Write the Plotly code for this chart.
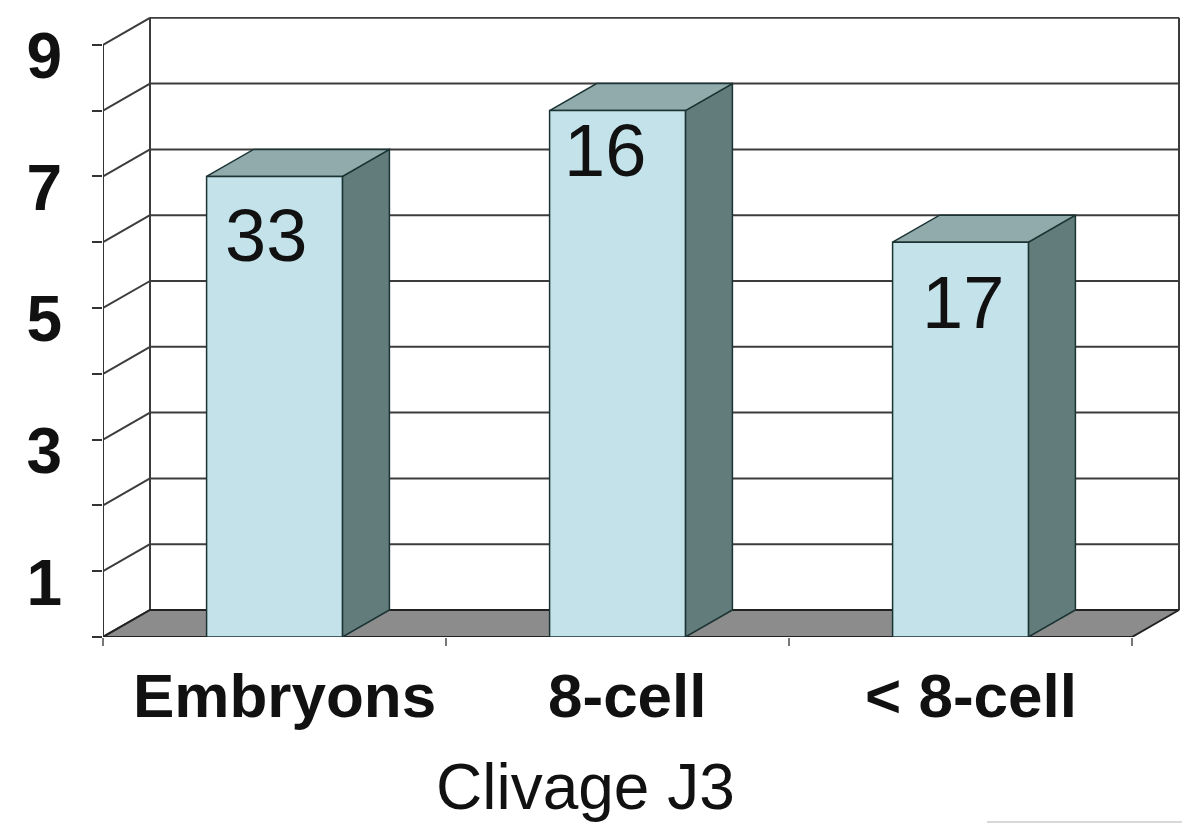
import plotly.graph_objects as go

# ---- data ----
categories = ["Embryons", "8-cell", "< 8-cell"]
values = [7, 8, 6]
bar_labels = ["33", "16", "17"]
y_ticks = list(range(0, 10))
y_ticktext = ["", "1", "", "3", "", "5", "", "7", "", "9"]
x_title = "Clivage J3"

# ---- geometry / style ----
W, H = 1190, 831
OFF = 8                       # page body margin of the browser
# plot-area edges in page pixels
P_LEFT, P_RIGHT, P_TOP, P_BOTTOM = 103, 1180, 17, 637
ML = P_LEFT - OFF
MT = P_TOP - OFF
MR = W - (P_RIGHT - OFF)
MB = H - (P_BOTTOM - OFF)
PX_SLOT = 343.0        # px per category slot
PX_UNIT = 65.8         # px per value unit
DDX = 47 / PX_SLOT     # depth offset (x, slot units)
DDY = 27 / PX_UNIT     # depth offset (y, value units)
HALF_W = 0.198         # half bar width (slot units)
YMAX = 9
N = len(categories)
# per-label pixel nudges (style only)
LABEL_NUDGE = [(-9, -16), (-13, 4), (2, -17)]

plot_w = W - ML - MR
plot_h = H - MT - MB
xr = [0, plot_w / PX_SLOT]
yr = [0, plot_h / PX_UNIT]

FRONT = "#c3e2e9"
TOP = "#91abad"
SIDE = "#627c7c"
EDGE = "#1c3333"
GRID = "#3c3c3c"
FLOOR = "#8c8c8c"
FONT = "Liberation Sans"

fig = go.Figure()

def line_trace(xs, ys, color=GRID, width=2):
    fig.add_trace(go.Scatter(x=xs, y=ys, mode="lines",
                             line=dict(color=color, width=width),
                             hoverinfo="skip", showlegend=False, cliponaxis=False))

def poly(xs, ys, fill, edge=EDGE, width=1.5):
    fig.add_trace(go.Scatter(x=xs + [xs[0]], y=ys + [ys[0]], mode="lines",
                             fill="toself", fillcolor=fill,
                             line=dict(color=edge, width=width),
                             hoverinfo="skip", showlegend=False, cliponaxis=False))

# back wall gridlines
gx, gy = [], []
for v in y_ticks[1:]:
    gx += [DDX, N + DDX, None]
    gy += [v + DDY, v + DDY, None]
line_trace(gx, gy)
# back wall vertical edges
line_trace([DDX, DDX, None, N + DDX, N + DDX],
           [DDY, YMAX + DDY, None, DDY, YMAX + DDY])
# side wall diagonals
sx, sy = [], []
for v in y_ticks:
    sx += [0, DDX, None]
    sy += [v, v + DDY, None]
line_trace(sx, sy)
# front vertical axis line
line_trace([0, 0], [0, YMAX], color="#333333", width=2)

# floor
poly([0, N, N + DDX, DDX], [0, 0, DDY, DDY], FLOOR, edge="#222222", width=2)

# bars
for i, v in enumerate(values):
    c = i + 0.5
    l, r = c - HALF_W, c + HALF_W
    poly([r, r + DDX, r + DDX, r], [0, DDY, v + DDY, v], SIDE)
    poly([l, r, r + DDX, l + DDX], [v, v, v + DDY, v + DDY], TOP)
    poly([l, r, r, l], [0, 0, v, v], FRONT)

annotations = []
for i, (v, t) in enumerate(zip(values, bar_labels)):
    dx, dy = LABEL_NUDGE[i]
    annotations.append(dict(x=i + 0.5, y=v, xref="x", yref="y", text=t,
                            showarrow=False, yanchor="top", xshift=dx, yshift=dy,
                            font=dict(family=FONT, size=74, color="#111111")))
for i, cat in enumerate(categories):
    annotations.append(dict(x=i + 0.5, y=0, xref="x", yref="y", text=cat,
                            showarrow=False, yanchor="middle", xshift=10, yshift=-58,
                            font=dict(family=FONT, size=62, color="#111111", weight="bold")))
annotations.append(dict(x=(585 - P_LEFT) / PX_SLOT, y=0, xref="x", yref="y", text=x_title,
                        showarrow=False, yanchor="middle", yshift=-150,
                        font=dict(family=FONT, size=64, color="#111111")))

fig.update_layout(
    width=W, height=H,
    margin=dict(l=ML, r=MR, t=MT, b=MB, autoexpand=False),
    paper_bgcolor="white", plot_bgcolor="white",
    showlegend=False,
    annotations=annotations,
    xaxis=dict(range=xr, showgrid=False, zeroline=False, showline=False, automargin=False,
               tickmode="array", tickvals=list(range(N + 1)), ticktext=[""] * (N + 1),
               ticks="outside", ticklen=8, tickwidth=2, tickcolor="#777777",
               fixedrange=True),
    yaxis=dict(range=yr, showgrid=False, zeroline=False, showline=False, automargin=False,
               tickmode="array", tickvals=y_ticks, ticktext=y_ticktext,
               ticks="outside", ticklen=10, tickwidth=2, tickcolor="#333333",
               ticklabelstandoff=17, ticklabelshift=11, ticklabeloverflow="allow",
               tickfont=dict(family=FONT, size=64, color="#111111", weight="bold"),
               fixedrange=True),
)
# faint window artefact at bottom right
y_art = (P_BOTTOM - 822) / plot_h
fig.add_shape(type="line", xref="paper", yref="paper",
              x0=(987 - P_LEFT) / plot_w, x1=(W - P_LEFT) / plot_w,
              y0=y_art, y1=y_art,
              line=dict(color="#d8d8d8", width=2))

fig.write_html("out.html")
